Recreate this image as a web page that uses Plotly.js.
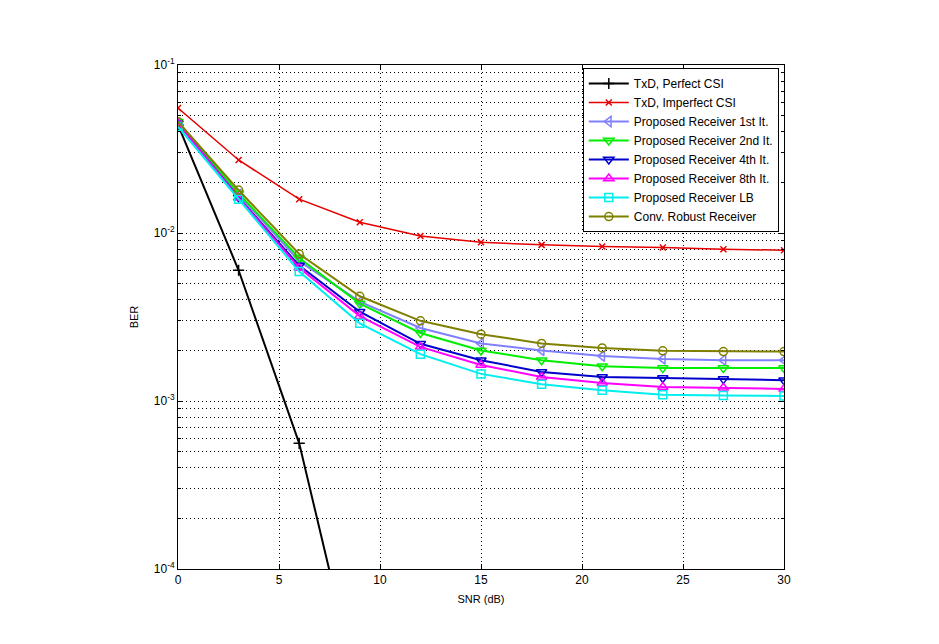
<!DOCTYPE html>
<html><head><meta charset="utf-8">
<script src="https://cdn.plot.ly/plotly-3.0.1.min.js"></script>
<style>body{margin:0;background:#fff}#chart{width:939px;height:644px}</style>
</head><body><div id="chart"></div>
<script>
const snr = [0, 3, 6, 9, 12, 15, 18, 21, 24, 27, 30];
const snrPerfect = [0, 3, 6, 9];
const txdPerfect = [0.044, 0.0060, 0.00056, 0.000017];
const txdImperfect = [0.0555, 0.0272, 0.0159, 0.0116, 0.0096, 0.0088, 0.0085, 0.0083, 0.0082, 0.0080, 0.0079];
const prop1st = [0.045, 0.0170, 0.0068, 0.0039, 0.00272, 0.0022, 0.0020, 0.00185, 0.00178, 0.00175, 0.00175];
const prop2nd = [0.046, 0.0172, 0.0071, 0.0038, 0.00254, 0.0020, 0.00175, 0.00161, 0.00157, 0.00157, 0.00157];
const prop4th = [0.045, 0.0163, 0.0064, 0.0034, 0.00219, 0.00175, 0.00149, 0.00139, 0.00137, 0.00135, 0.00133];
const prop8th = [0.045, 0.0162, 0.0062, 0.0032, 0.0021, 0.00164, 0.00139, 0.00128, 0.00121, 0.00120, 0.00118];
const propLB = [0.043, 0.0159, 0.0059, 0.0029, 0.0019, 0.00145, 0.00126, 0.00116, 0.00109, 0.00108, 0.00107];
const convRobust = [0.046, 0.0180, 0.0075, 0.0042, 0.0030, 0.0025, 0.0022, 0.00207, 0.00199, 0.00197, 0.00197];
const names = ['TxD, Perfect CSI', 'TxD, Imperfect CSI', 'Proposed Receiver 1st It.', 'Proposed Receiver 2nd It.',
  'Proposed Receiver 4th It.', 'Proposed Receiver 8th It.', 'Proposed Receiver LB', 'Conv. Robust Receiver'];
const yTickVals = [1e-4, 1e-3, 1e-2, 1e-1];
const yTickText = ['10<sup>-4</sup>', '10<sup>-3</sup>', '10<sup>-2</sup>', '10<sup>-1</sup>'];
const xTickVals = [0, 5, 10, 15, 20, 25, 30];

const minorVals = [];
for (let e = -4; e < -1; e++) for (let m = 2; m <= 9; m++) minorVals.push(m * Math.pow(10, e));

const series = [
  {x: snrPerfect, y: txdPerfect, color: '#000000', symbol: 'cross-thin-open', size: 8, w: 2},
  {x: snr, y: txdImperfect, color: '#e60000', symbol: 'x-thin-open', size: 6, w: 1.5},
  {x: snr, y: prop1st, color: '#8080ff', symbol: 'triangle-left-open', size: 9, w: 2},
  {x: snr, y: prop2nd, color: '#00ee00', symbol: 'triangle-down-open', size: 9, w: 2},
  {x: snr, y: prop4th, color: '#0000cc', symbol: 'triangle-down-open', size: 9, w: 2},
  {x: snr, y: prop8th, color: '#ff00ff', symbol: 'triangle-up-open', size: 9, w: 2},
  {x: snr, y: propLB, color: '#00eeee', symbol: 'square-open', size: 8, w: 2},
  {x: snr, y: convRobust, color: '#808000', symbol: 'circle-open', size: 8, w: 2}
];

const traces = series.map((s, i) => ({
  type: 'scatter', mode: 'lines+markers', name: names[i], x: s.x, y: s.y,
  line: {color: s.color, width: s.w},
  marker: {symbol: s.symbol, size: s.size, color: s.color, line: {color: s.color, width: 1.5}}
}));

const dots = '1px,3px';
const layout = {
  width: 939, height: 644,
  margin: {l: 178, r: 155, t: 65, b: 75, pad: 0},
  paper_bgcolor: '#ffffff', plot_bgcolor: '#ffffff',
  font: {family: 'Liberation Sans, Arial, sans-serif', size: 11, color: '#000'},
  showlegend: true,
  legend: {x: 0.668, y: 0.994, xanchor: 'left', yanchor: 'top', bgcolor: '#ffffff',
    bordercolor: '#000', borderwidth: 1, font: {size: 12}, tracegroupgap: 0, itemwidth: 40},
  xaxis: {
    range: [0, 30], tickmode: 'array', tickvals: xTickVals,
    showline: true, linecolor: '#000', linewidth: 1, mirror: 'allticks',
    ticks: 'inside', ticklen: 5, tickcolor: '#000', tickfont: {size: 12},
    showgrid: true, gridcolor: '#000', griddash: dots, gridwidth: 1, zeroline: false,
    title: {text: 'SNR (dB)', font: {size: 11}, standoff: 8}
  },
  yaxis: {
    type: 'log', range: [-4, -1], tickmode: 'array', tickvals: yTickVals, ticktext: yTickText,
    showline: true, linecolor: '#000', linewidth: 1, mirror: 'allticks',
    ticks: 'inside', ticklen: 5, tickcolor: '#000', tickfont: {size: 12},
    showgrid: true, gridcolor: '#000', griddash: dots, gridwidth: 1, zeroline: false,
    minor: {tickmode: 'array', tickvals: minorVals, ticks: 'inside', ticklen: 3, tickcolor: '#000',
      showgrid: true, gridcolor: '#000', griddash: dots, gridwidth: 1},
    title: {text: 'BER', font: {size: 11}, standoff: 12}
  }
};

Plotly.newPlot('chart', traces, layout, {displayModeBar: false, staticPlot: true});
</script>
</body></html>
